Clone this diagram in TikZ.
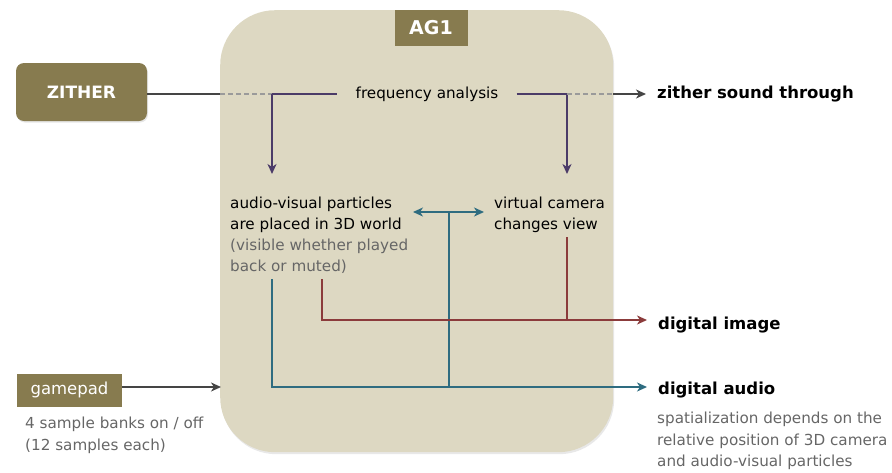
\documentclass[tikz,border=0pt]{standalone}
\usepackage{fontspec}
\setmainfont{DejaVu Sans}
\usetikzlibrary{arrows.meta,shadows}
\definecolor{agbeige}{HTML}{DDD8C2}
\definecolor{agolive}{HTML}{877B4F}
\definecolor{agpurple}{HTML}{4B3B68}
\definecolor{agteal}{HTML}{2E6C80}
\definecolor{agred}{HTML}{8B3B3B}
\definecolor{agdark}{HTML}{454545}
\definecolor{agdash}{HTML}{9A9A9A}
\definecolor{aggray}{HTML}{666666}
\begin{document}
\begin{tikzpicture}[x=1pt,y=-1pt,
  conn/.style={line width=2.8pt},
  tip/.style={-{Stealth[length=10pt,width=9pt,inset=3pt]}},
  tips/.style={{Stealth[length=10pt,width=9pt,inset=3pt]}-{Stealth[length=10pt,width=9pt,inset=3pt]}},
  body/.style={font=\fontsize{15.2}{20.8}\selectfont, inner sep=0pt, align=left},
  big/.style={font=\fontsize{16.5}{20}\selectfont\bfseries, inner xsep=11pt, inner ysep=0pt},
  olivebox/.style={fill=agolive, text=white, inner sep=0pt}
]
\useasboundingbox (0,0) rectangle (892,472);
% main box
\node[fill=agbeige, rounded corners=55pt, minimum width=393pt, minimum height=442pt,
      anchor=north west, inner sep=0pt,
      drop shadow={opacity=0.18, shadow xshift=1pt, shadow yshift=-2pt}] (ag) at (220,10) {};
\node[olivebox, minimum width=73pt, minimum height=36pt, font=\fontsize{19}{20}\selectfont\bfseries] (agl) at (431,28) {AG1};
% inputs
\node[olivebox, rounded corners=8pt, minimum width=131pt, minimum height=58pt,
      font=\fontsize{17}{20}\selectfont\bfseries,
      drop shadow={opacity=0.2, shadow xshift=1pt, shadow yshift=-1.5pt}] (z) at (81.5,92) {ZITHER};
\node[olivebox, minimum width=105pt, minimum height=33pt, font=\fontsize{16.5}{20}\selectfont] (gp) at (69.5,390) {gamepad};
\node[body, text=aggray, anchor=north west, font=\fontsize{15.2}{21.5}\selectfont] (gpn) at (25,417) {4 sample banks on / off\\(12 samples each)};
% inner texts
\node[body, inner xsep=18pt, anchor=center] (fa) at (427,94.5) {frequency analysis};
\node[body, anchor=north west] (av) at (230,197) {audio-visual particles\\are placed in 3D world\\\textcolor{aggray}{(visible whether played}\\\textcolor{aggray}{back or muted)}};
\node[body, anchor=north west] (vc) at (494,197) {virtual camera\\changes view};
% outputs
\node[big, anchor=west] (zs) at (646,94) {zither sound through};
\node[big, anchor=west] (di) at (647,325) {digital image};
\node[big, anchor=west] (da) at (647,390) {digital audio};
\node[body, text=aggray, anchor=north west, font=\fontsize{15.2}{21.5}\selectfont] (dan) at (657,412) {spatialization depends on the\\relative position of 3D camera\\and audio-visual particles};
% coordinates
\coordinate (zin) at (220,94);
\coordinate (j1) at (272,94);
\coordinate (j2) at (567,94);
\coordinate (zout) at (613,94);
\coordinate (avin) at (272,174);
\coordinate (vcin) at (567,174);
\coordinate (tl) at (413,212);
\coordinate (tr) at (484,212);
\coordinate (tm) at (449,212);
\coordinate (tb) at (449,387);
\coordinate (avs) at (272,279);
\coordinate (avc) at (272,387);
\coordinate (avr) at (322,279);
\coordinate (redc) at (322,320);
\coordinate (vcs) at (567,237);
\coordinate (vcc) at (567,320);
\coordinate (gpin) at (221,387);
% connectors
\draw[conn, agdark] (z.east |- zin) -- (zin);
\draw[conn, agdash, dash pattern=on 5pt off 3pt] (zin) -- (j1);
\draw[conn, agpurple] (j1) -- (fa.west |- j1);
\draw[conn, agpurple, tip] (j1) -- (avin);
\draw[conn, agpurple] (fa.east |- j2) -- (j2);
\draw[conn, agpurple, tip] (j2) -- (vcin);
\draw[conn, agdash, dash pattern=on 5pt off 3pt] (j2) -- (zout);
\draw[conn, agdark, tip] (zout) -- (zs.west |- zout);
\draw[conn, agteal, tips] (tl) -- (tr);
\draw[conn, agteal] (tm) -- (tb);
\draw[conn, agteal, tip] (avs) -- (avc) -- (da.west |- avc);
\draw[conn, agred, tip] (avr) -- (redc) -- (di.west |- redc);
\draw[conn, agred] (vcs) -- (vcc);
\draw[conn, agdark, tip] (gp.east |- gpin) -- (gpin);
\end{tikzpicture}
\end{document}
